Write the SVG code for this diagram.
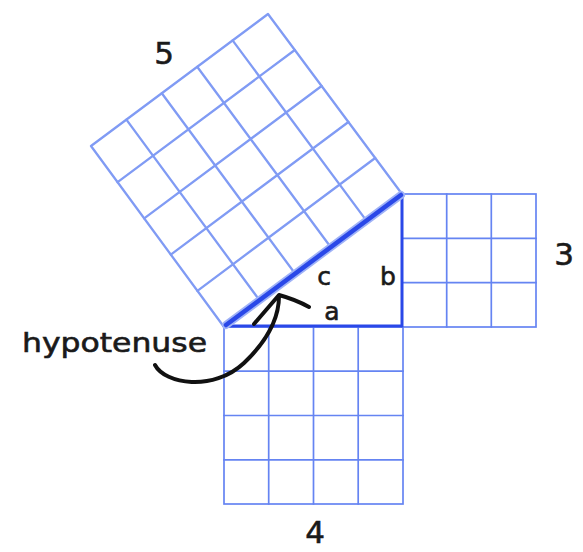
<svg xmlns="http://www.w3.org/2000/svg" width="583" height="552" viewBox="0 0 583 552">
<style>
.grid{fill:none;stroke:#6584f2;stroke-width:1.7;stroke-linecap:square}
.grid5{fill:none;stroke:#809bf4;stroke-width:2.3;stroke-linecap:round;stroke-linejoin:round}
.tri{fill:#ffffff;stroke:#2a48e8;stroke-width:3;stroke-linejoin:round}
.hyp{fill:none;stroke:#2a48e8;stroke-width:4.5;stroke-linecap:round}
.hyphalo{fill:none;stroke:#9fb2f7;stroke-width:8;stroke-linecap:round}
.lbl{font-family:"DejaVu Sans","Liberation Sans",sans-serif;fill:#1a1a1a;stroke:#1a1a1a;stroke-width:0.6}
.num{font-size:31px;text-anchor:middle}
.side{font-size:25px;text-anchor:middle}
.ink{fill:none;stroke:#111111;stroke-width:4;stroke-linecap:round;stroke-linejoin:round}
</style>
<rect width="583" height="552" fill="#ffffff"/>
<g id="square-5">
<polygon class="grid5" points="224,327 402,194 268,14 91,146"/>
<path class="grid5" d="M197.4,290.8L375.2,158M170.8,254.6L348.4,122M144.2,218.4L321.6,86M117.6,182.2L294.8,50M259.6,300.4L126.4,119.6M295.2,273.8L161.8,93.2M330.8,247.2L197.2,66.8M366.4,220.6L232.6,40.4"/>
</g>
<g id="square-3">
<rect class="grid" x="402" y="194" width="134" height="133"/>
<path class="grid" d="M446.7,194V327M491.3,194V327M402,238.3H536M402,282.7H536"/>
</g>
<g id="square-4">
<rect class="grid" x="224" y="327" width="179" height="177"/>
<path class="grid" d="M268.7,327V504M313.5,327V504M358.2,327V504M224,371.2H403M224,415.5H403M224,459.8H403"/>
</g>
<g id="triangle">
<polygon class="tri" points="224,326 402,326 402,195"/>
<line class="hyphalo" x1="226" y1="325" x2="401" y2="195"/>
<line class="hyp" x1="226" y1="325" x2="401" y2="195"/>
</g>
<g id="labels" class="lbl">
<text class="num" x="164" y="64">5</text>
<text class="num" x="564" y="265">3</text>
<text class="num" x="315" y="543">4</text>
<text class="side" x="324" y="285">c</text>
<text class="side" x="388" y="285">b</text>
<text class="side" x="332" y="320">a</text>
<text x="22" y="352" font-size="27" textLength="185" lengthAdjust="spacingAndGlyphs">hypotenuse</text>
</g>
<g id="connectors">
<path class="ink" d="M155,365C165,384 213,392 244,363C266,342 279,320 279,296"/>
<path class="ink" d="M254,324L279,295C290,298 300,302 309,307"/>
</g>
</svg>
